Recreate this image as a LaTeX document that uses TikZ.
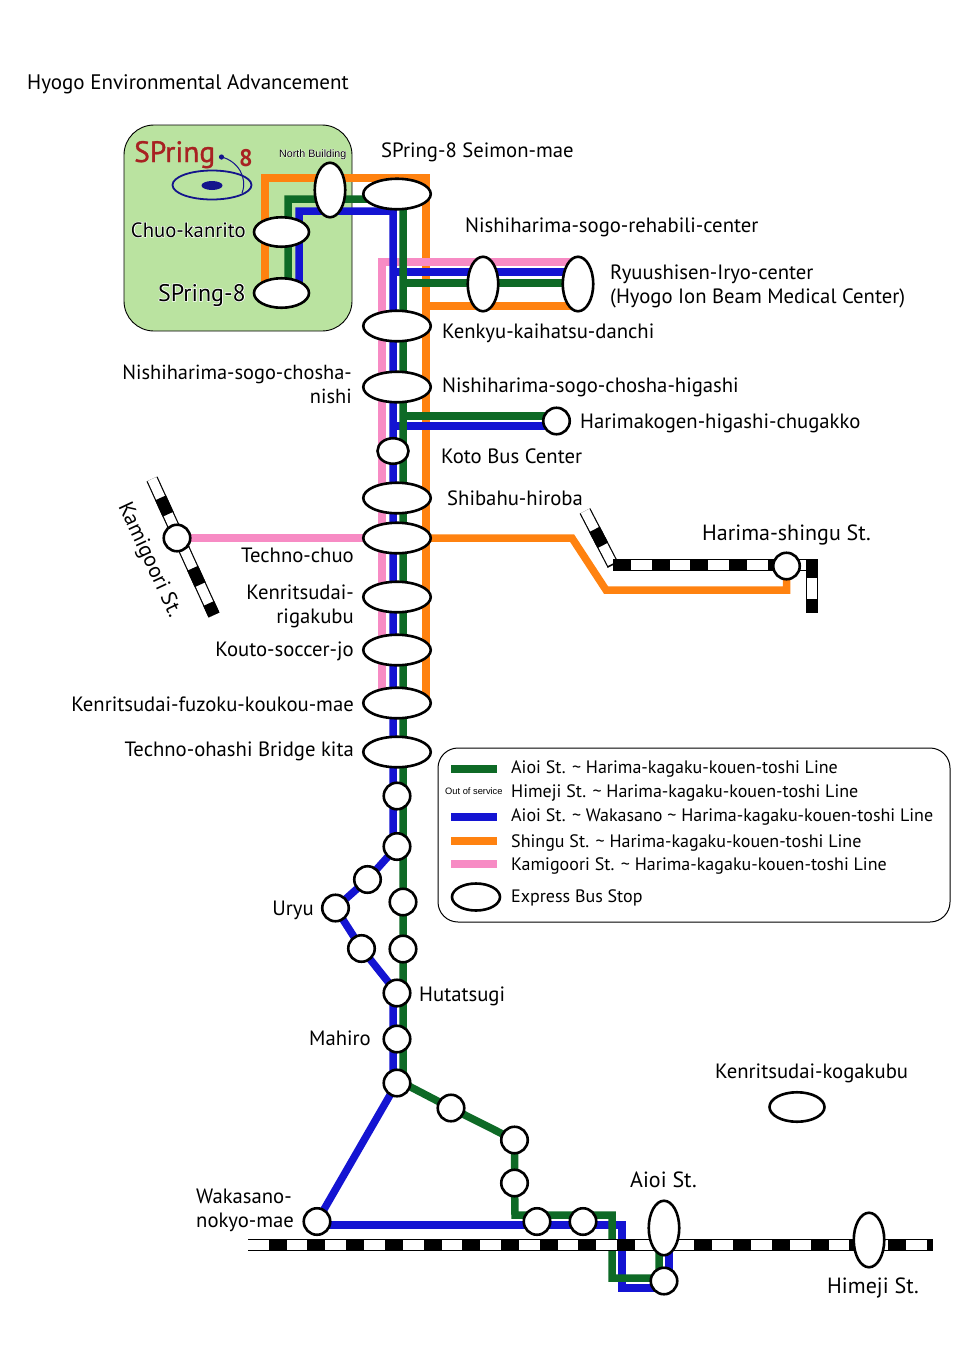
\documentclass[tikz,border=0pt]{standalone}
\usepackage{fontspec}
\setmainfont{PT Sans}
\newfontfamily\helv{Liberation Sans}
\usetikzlibrary{backgrounds,shapes.geometric,positioning}
\definecolor{lineorange}{HTML}{FF8210}
\definecolor{linepink}{HTML}{F78BC4}
\definecolor{lineblue}{HTML}{1414D2}
\definecolor{linegreen}{HTML}{0E6A26}
\definecolor{boxgreen}{HTML}{BAE3A0}
\definecolor{logored}{HTML}{A82222}
\definecolor{logoblue}{HTML}{14148C}
\def\halotext#1{\rlap{\textcolor{white}{\addfontfeature{FakeBold=6}#1}}#1}
\def\railway[#1](#2)(#3)% Syntax: [dash phase] (start) (end)
    { \draw[railbase] (#2) -- (#3); \draw[railgap] (#2) -- (#3); \draw[railblock,dash phase=#1] (#2) -- (#3); }
\tikzset{
  stopshape/.style={draw=black,fill=white,line width=2.6pt,inner sep=0pt,outer sep=0pt},
  bigstop/.style={stopshape,ellipse,minimum width=67.5pt,minimum height=30.5pt},
  midstop/.style={stopshape,ellipse,minimum width=55pt,minimum height=29.5pt},
  tallstop/.style={stopshape,ellipse,minimum width=30.5pt,minimum height=54.5pt},
  ministop/.style={stopshape,circle,minimum size=26.5pt},
  busline/.style={line width=7.5pt},
  orangeline/.style={busline,lineorange},
  pinkline/.style={busline,linepink},
  blueline/.style={busline,lineblue},
  greenline/.style={busline,linegreen},
  railbase/.style={line width=12pt,black},
  railgap/.style={line width=9.6pt,white},
  railblock/.style={line width=12pt,black,dash pattern=on 18pt off 20.7pt},
  lblleft/.style={anchor=base west,inner sep=0pt,font=\fontsize{20.7}{24}\selectfont},
  lblright/.style={anchor=base east,inner sep=0pt,align=right,font=\fontsize{20.7}{24}\selectfont},
  lblbig/.style={lblleft,font=\fontsize{22}{24}\selectfont},
  lbllegend/.style={anchor=base west,inner sep=0pt,font=\fontsize{18}{22}\selectfont},
}
\begin{document}
\begin{tikzpicture}[x=1pt,y=-1pt]
  \useasboundingbox (0,0) rectangle (960,1358);

  % stops on the trunk
  \foreach \name/\ypos in {seimon/194,kenkyu/326,chosha/387,shibahu/498,tchuo/538,rigakubu/597,kouto/650,fuzoku/703,ohashi/752}
    \node[bigstop] (\name) at (397,\ypos) {};
  \foreach \name/\xpos/\ypos in {north/330/190,ryuA/483/284,ryuB/578/284,aioi/664/1228,himeji/869/1240}
    \node[tallstop] (\name) at (\xpos,\ypos) {};
  \node[midstop] (chuo) at (281.5,232) {};
  \node[midstop] (spring) at (281.5,293) {};
  \node[midstop] (kogakubu) at (797,1107) {};
  \node[stopshape,ellipse,minimum width=31pt,minimum height=25.5pt] (koto) at (393,451) {};
  \foreach \name/\xpos/\ypos in {chugakko/556.5/421,kamigoori/177/538,shingu/786.5/566,
      sA/397/796,sB/397/846.5,sC/367.5/879.5,uryu/335.5/908,sD/361.5/948.5,
      sE/403/902,sF/403/949,hutatsugi/397/993,mahiro/397/1039,sG/397/1083,
      sH/451/1108,sI/514.5/1140,sJ/514.5/1183,sK/537/1221.5,sL/583/1221.5,
      wakasano/317/1221.5,aioiS/664/1281}
    \node[ministop] (\name) at (\xpos,\ypos) {};

  % corners of the lines
  \coordinate (oa) at (265,293);
  \coordinate (ob) at (265,178);
  \coordinate (oc) at (426,178);
  \coordinate (od) at (426,703);
  \coordinate (oe) at (426,306);
  \coordinate (of) at (572,538);
  \coordinate (og) at (606,590);
  \coordinate (pa) at (382,703);
  \coordinate (pb) at (382,262);
  \coordinate (ba) at (299,293);
  \coordinate (bb) at (299,211);
  \coordinate (bc) at (393,211);
  \coordinate (bd) at (393,846.5);
  \coordinate (be) at (393,993);
  \coordinate (bf) at (393,1083);
  \coordinate (bg) at (393,272);
  \coordinate (bh) at (393,426);
  \coordinate (bi) at (317,1225);
  \coordinate (bj) at (622,1225);
  \coordinate (bk) at (622,1288);
  \coordinate (bl) at (669,1288);
  \coordinate (bm) at (669,1228);
  \coordinate (ga) at (288,293);
  \coordinate (gb) at (288,199);
  \coordinate (gc) at (403,199);
  \coordinate (gd) at (403,1083);
  \coordinate (ge) at (403,283);
  \coordinate (gf) at (403,416);
  \coordinate (gg) at (515,1215);
  \coordinate (gh) at (612,1215);
  \coordinate (gi) at (612,1278);
  \coordinate (gj) at (659,1278);
  \coordinate (gk) at (659,1228);
  \coordinate (ra) at (248,1245);
  \coordinate (rb) at (933,1245);
  \coordinate (rc) at (152,479);
  \coordinate (rd) at (214,615);
  \coordinate (re) at (585,511);
  \coordinate (rf) at (613,565);
  \coordinate (rg) at (818,565);
  \coordinate (rh) at (812,560);
  \coordinate (ri) at (812,613);

  \begin{scope}[on background layer]
    \draw[black,fill=boxgreen,line width=0.9pt,rounded corners=30pt] (124,125) rectangle (352,331);
    % logo
    \draw[logoblue,line width=1.8pt] (212,185) ellipse (39.5pt and 14.5pt);
    \fill[logoblue] (212,185.5) ellipse (10.5pt and 4.5pt);
    \fill[logoblue] (221.5,157) circle (2.6pt);
    \draw[logoblue,line width=1pt] (221.5,157) .. controls (238,161) and (248,178) .. (242,193);

    % orange first, the others run over it
    \draw[orangeline] (oa) -- (ob) -- (oc) -- (od);
    \draw[orangeline] (oe) -- (oe -| ryuB);
    \draw[orangeline] (tchuo) -- (of) -- (og) -- (og -| shingu) -- (shingu);
    \draw[pinkline] (pa) -- (pb) -- (pb -| ryuB);
    \draw[pinkline] (kamigoori) -- (tchuo);
    \draw[blueline] (ba) -- (bb) -- (bc) -- (bd) -- (sB.center) -- (sC) -- (uryu) -- (sD) -- (hutatsugi.center) -- (be) -- (bf);
    \draw[blueline] (bg) -- (bg -| ryuB);
    \draw[blueline] (bh) -- (bh -| chugakko);
    \draw[blueline] (sG) -- (wakasano);
    \draw[blueline] (bi) -- (bj) -- (bk) -- (bl) -- (bm);
    \draw[greenline] (ga) -- (gb) -- (gc) -- (gd) -- (sH) -- (sI) -- (sJ) -- (gg) -- (gh) -- (gi) -- (gj) -- (gk);
    \draw[greenline] (ge) -- (ge -| ryuB);
    \draw[greenline] (gf) -- (gf -| chugakko);

    \railway[18pt](ra)(rb)
    \railway[18pt](rc)(rd)
    \railway[18pt](re)(rf)
    \railway[0pt](rf)(rg)
    \railway[0pt](rh)(ri)
  \end{scope}

  % logo and box labels
  \node[anchor=base west,inner sep=0pt,text=logored,font=\fontsize{29.5}{30}\selectfont\addfontfeature{FakeBold=1}] (logotext) at (134,162) {SPring};
  \node[anchor=base west,inner sep=0pt,text=logored,font=\fontsize{24}{30}\selectfont\bfseries] (logoeight) at (239,166) {8};
  \node[anchor=base west,inner sep=0pt,font=\helv\fontsize{10.7}{12}\selectfont] (lnorth) at (279,157) {\halotext{North Building}};
  \node[lblright] (lchuo) at (246,237) {\halotext{Chuo-kanrito}};
  \node[lblright,font=\fontsize{24}{24}\selectfont] (lspring) at (246,301) {\halotext{SPring-8}};

  % labels
  \node[lblleft,font=\fontsize{21}{24}\selectfont] (ltitle) at (27,89) {Hyogo Environmental Advancement};
  \node[lblleft] (lseimon) at (381,157) {SPring-8 Seimon-mae};
  \node[lblleft] (lrehab) at (465,232) {Nishiharima-sogo-rehabili-center};
  \node[lblleft,align=left,anchor=north west] (lryu) at (610,264.5) {Ryuushisen-Iryo-center\\(Hyogo Ion Beam Medical Center)};
  \node[lblleft] (lkenkyu) at (442,338) {Kenkyu-kaihatsu-danchi};
  \node[lblright,anchor=north east,font=\fontsize{20.4}{24}\selectfont] (lnishi) at (352,365) {Nishiharima-sogo-chosha-\\nishi};
  \node[lblleft] (lhigashi) at (442,392) {Nishiharima-sogo-chosha-higashi};
  \node[lblleft] (lchugakko) at (580,428) {Harimakogen-higashi-chugakko};
  \node[lblleft] (lkoto) at (441,463) {Koto Bus Center};
  \node[lblleft] (lshibahu) at (447,505) {Shibahu-hiroba};
  \node[lblbig] (lshingu) at (702,540) {Harima-shingu St.};
  \node[lblright] (ltchuo) at (354,562) {Techno-chuo};
  \node[lblright,anchor=north east] (lrigaku) at (354,585) {Kenritsudai-\\rigakubu};
  \node[lblright] (lkouto) at (354,656) {Kouto-soccer-jo};
  \node[lblright] (lfuzoku) at (354,711) {Kenritsudai-fuzoku-koukou-mae};
  \node[lblright] (lohashi) at (354,756) {Techno-ohashi Bridge kita};
  \node[font=\fontsize{21.5}{24}\selectfont,rotate=-65,inner sep=0pt] (lkami) at (149,560) {Kamigoori St.};
  \node[lblright] (luryu) at (314,915) {Uryu};
  \node[lblleft] (lhutatsugi) at (419,1001) {Hutatsugi};
  \node[lblright] (lmahiro) at (371,1045) {Mahiro};
  \node[lblleft] (lkogakubu) at (715,1078) {Kenritsudai-kogakubu};
  \node[lblleft,align=left,anchor=north west] (lwakasano) at (196,1189) {Wakasano-\\nokyo-mae};
  \node[lblbig] (laioi) at (630,1187) {Aioi St.};
  \node[lblbig] (lhimeji) at (827,1293) {Himeji St.};

  % legend
  \draw[black,line width=1pt,rounded corners=20pt] (438,748) rectangle (950,922);
  \coordinate (kgreen) at (451,769);
  \coordinate (kblue) at (451,817);
  \coordinate (korange) at (451,841);
  \coordinate (kpink) at (451,864);
  \draw[greenline] (kgreen) -- ++(46,0);
  \draw[blueline] (kblue) -- ++(46,0);
  \draw[orangeline] (korange) -- ++(46,0);
  \draw[pinkline] (kpink) -- ++(46,0);
  \node[stopshape,ellipse,minimum width=48pt,minimum height=27pt] (kstop) at (476,897) {};
  \node[lbllegend] (tgreen) at (511,773) {Aioi St. \textasciitilde\ Harima-kagaku-kouen-toshi Line};
  \node[anchor=base west,inner sep=0pt,font=\helv\fontsize{9.3}{10}\selectfont] (tout) at (445,794) {Out of service};
  \node[lbllegend] (thimeji) at (511,797) {Himeji St. \textasciitilde\ Harima-kagaku-kouen-toshi Line};
  \node[lbllegend] (tblue) at (511,821) {Aioi St. \textasciitilde\ Wakasano \textasciitilde\ Harima-kagaku-kouen-toshi Line};
  \node[lbllegend] (torange) at (511,847) {Shingu St. \textasciitilde\ Harima-kagaku-kouen-toshi Line};
  \node[lbllegend] (tpink) at (511,870) {Kamigoori St. \textasciitilde\ Harima-kagaku-kouen-toshi Line};
  \node[lbllegend] (tstop) at (511,902) {Express Bus Stop};
\end{tikzpicture}
\end{document}
